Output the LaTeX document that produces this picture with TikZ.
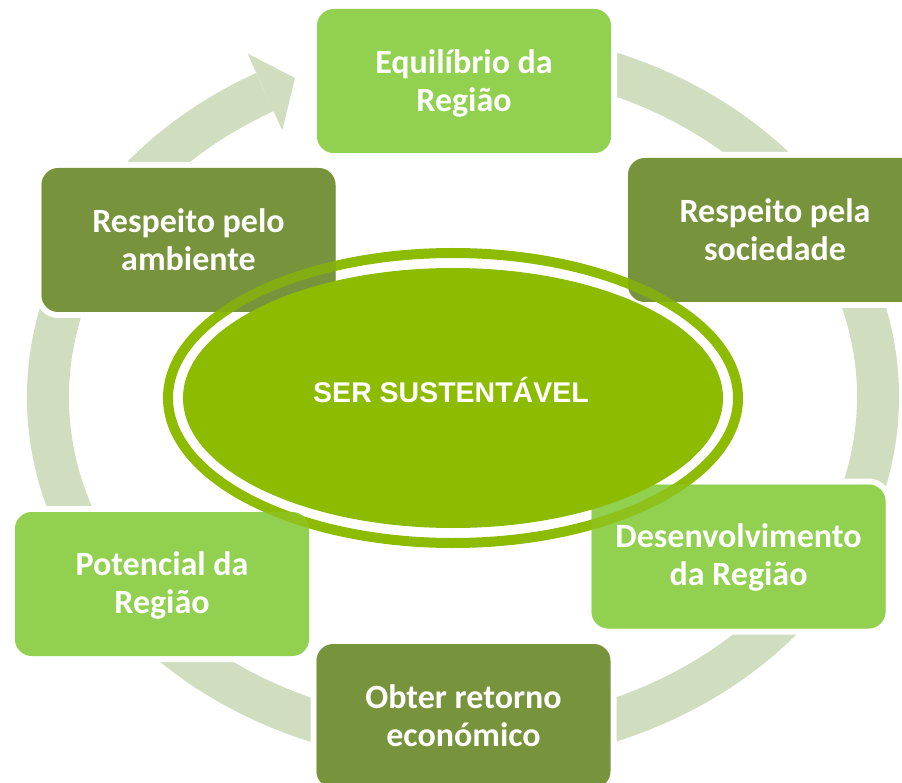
\documentclass[tikz,border=0pt]{standalone}
\usepackage{fontspec}
\setmainfont{Carlito}
\newfontfamily\arialfont{Liberation Sans}
\definecolor{ringlight}{RGB}{208,221,190}
\definecolor{boxlight}{RGB}{146,208,80}
\definecolor{boxdark}{RGB}{119,147,60}
\definecolor{ellgreen}{RGB}{140,187,0}
\tikzset{
  box/.style={minimum width=294pt, minimum height=144pt, rounded corners=17pt, inner sep=0pt,
    preaction={draw=white, fill=white, line width=12pt}},
  lightbox/.style={box, fill=boxlight},
  darkbox/.style={box, fill=boxdark},
  lbl/.style={text=white, align=center, inner sep=0pt,
    font=\fontsize{34}{38}\selectfont\bfseries},
  corelbl/.style={text=white, inner sep=0pt,
    font=\arialfont\bfseries\fontsize{28.5}{32}\selectfont},
}
\begin{document}
\begin{tikzpicture}[x=1pt,y=-1pt]
\useasboundingbox (0,0) rectangle (902,783);
\clip (0,0) rectangle (902,783);
\coordinate (ringc) at (463,397);
\coordinate (ellc) at (453,398);
% cycle ring with arrow
\draw[ringlight, line width=42pt] (ringc) ++(118.5:415pt and 347pt)
  arc[start angle=118.5, end angle=460, x radius=415pt, y radius=347pt];
\coordinate (arrtip) at (295,78);
\fill[ringlight] (247.7,53.7) -- (arrtip) -- (282.3,130.3) -- cycle;
% boxes
\node[lightbox] (b1) at (464,81) {};
\node[darkbox]  (b2) at (775,230) {};
\node[lightbox] (b3) at (738.5,556.5) {};
\node[darkbox]  (b4) at (463.5,716) {};
\node[lightbox] (b5) at (162,584) {};
\node[darkbox]  (b6) at (188.5,240) {};
% outer ring of the centre ellipse
\draw[ellgreen, line width=10pt] (ellc) ellipse [x radius=285pt, y radius=145pt];
% ring seen through the boxes
\foreach \n/\c in {b1/boxlight,b2/boxdark,b3/boxlight,b4/boxdark,b5/boxlight,b6/boxdark}{
  \begin{scope}
    \clip[rounded corners=17pt] (\n.south west) rectangle (\n.north east);
    \fill[\c, opacity=0.35] (\n.south west) rectangle (\n.north east);
  \end{scope}
}
% inner ellipse
\fill[ellgreen] (ellc) ellipse [x radius=270pt, y radius=130pt];
% texts
\node[lbl] (t1) at ([yshift=-2pt]b1) {Equilíbrio da\\Região};
\node[lbl] (t2) at (b2) {Respeito pela\\sociedade};
\node[lbl] (t3) at ([yshift=-1pt]b3) {Desenvolvimento\\da Região};
\node[lbl] (t4) at (b4) {Obter retorno\\económico};
\node[lbl] (t5) at ([yshift=-1pt]b5) {Potencial da\\Região};
\node[lbl] (t6) at (b6) {Respeito pelo\\ambiente};
\node[corelbl] (core) at (451,390) {SER SUSTENTÁVEL};
\end{tikzpicture}
\end{document}
